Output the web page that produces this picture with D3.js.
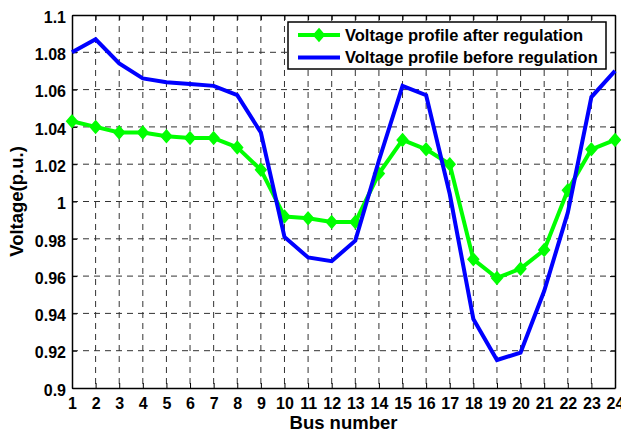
<!DOCTYPE html>
<html>
<head>
<meta charset="utf-8">
<script src="https://cdn.jsdelivr.net/npm/d3@7"></script>
<style>
  body { margin: 0; background: #fff; }
  svg text { font-family: "Liberation Sans", Arial, sans-serif; font-weight: bold; }
</style>
</head>
<body>
<div id="chart"></div>
<script>
// Bus numbers and voltage values (p.u.)
const buses = d3.range(1, 25);
const afterRegulation = [1.043, 1.040, 1.037, 1.037, 1.035, 1.034, 1.034, 1.029, 1.017, 0.992,
                         0.991, 0.989, 0.989, 1.015, 1.033, 1.028, 1.020, 0.969, 0.959, 0.964,
                         0.974, 1.006, 1.028, 1.033];
const beforeRegulation = [1.080, 1.087, 1.074, 1.066, 1.064, 1.063, 1.062, 1.057, 1.037, 0.981,
                          0.970, 0.968, 0.979, 1.022, 1.062, 1.057, 1.004, 0.937, 0.915, 0.919,
                          0.952, 0.994, 1.056, 1.070];
const yTicks = [0.9, 0.92, 0.94, 0.96, 0.98, 1, 1.02, 1.04, 1.06, 1.08, 1.1];
const seriesNames = ['Voltage profile after regulation', 'Voltage profile before regulation'];

const width = 621, height = 432;
const margin = { top: 15, right: 6, bottom: 44, left: 72 };

const svg = d3.select('#chart').append('svg')
    .attr('width', width)
    .attr('height', height);

const x = d3.scaleLinear().domain([1, 24]).range([margin.left, width - margin.right]);
const y = d3.scaleLinear().domain([0.9, 1.1]).range([height - margin.bottom, margin.top]);

// Grid
const grid = svg.append('g')
    .attr('stroke', '#333')
    .attr('stroke-width', 1)
    .attr('stroke-dasharray', '6,5');

grid.selectAll('.vg')
    .data(buses.slice(1, -1))
    .enter().append('line')
    .attr('x1', d => x(d)).attr('x2', d => x(d))
    .attr('y1', y(1.1)).attr('y2', y(0.9));

grid.selectAll('.hg')
    .data(yTicks.slice(1, -1))
    .enter().append('line')
    .attr('x1', x(1)).attr('x2', x(24))
    .attr('y1', d => y(d)).attr('y2', d => y(d));

// Axes (ticks pointing inward on all four sides)
const xAxis = svg.append('g')
    .attr('transform', `translate(0, ${y(0.9)})`)
    .call(d3.axisBottom(x).tickValues(buses).tickFormat(d3.format('d')).tickSizeInner(-5).tickSizeOuter(0));
const yAxis = svg.append('g')
    .attr('transform', `translate(${x(1)}, 0)`)
    .call(d3.axisLeft(y).tickValues(yTicks).tickFormat(d => String(+d.toFixed(2))).tickSizeInner(-5).tickSizeOuter(0));
svg.append('g')
    .attr('transform', `translate(0, ${y(1.1)})`)
    .call(d3.axisTop(x).tickValues(buses).tickFormat('').tickSizeInner(-5).tickSizeOuter(0));
svg.append('g')
    .attr('transform', `translate(${x(24)}, 0)`)
    .call(d3.axisRight(y).tickValues(yTicks).tickFormat('').tickSizeInner(-5).tickSizeOuter(0));

svg.selectAll('.domain').attr('stroke', '#000').attr('stroke-width', 1.5);
svg.selectAll('.tick line').attr('stroke', '#000');

xAxis.selectAll('text')
    .attr('font-size', 16)
    .attr('fill', '#000')
    .attr('dy', 0)
    .attr('y', 20.5);
yAxis.selectAll('text')
    .attr('font-size', 16)
    .attr('fill', '#000')
    .attr('dy', '0.45em')
    .attr('x', -6);

// Lines
const line = d3.line()
    .x((d, i) => x(buses[i]))
    .y(d => y(d));

svg.append('path')
    .datum(afterRegulation)
    .attr('fill', 'none')
    .attr('stroke', '#00ff00')
    .attr('stroke-width', 4)
    .attr('stroke-linejoin', 'round')
    .attr('d', line);

const diamond = d3.symbol().type(d3.symbolDiamond2).size(70);
svg.append('g')
    .selectAll('path')
    .data(afterRegulation)
    .enter().append('path')
    .attr('transform', (d, i) => `translate(${x(buses[i])}, ${y(d)}) scale(1, 1.15)`)
    .attr('d', diamond)
    .attr('fill', '#00ff00')
    .attr('stroke', '#00ff00')
    .attr('stroke-width', 1.5);

svg.append('path')
    .datum(beforeRegulation)
    .attr('fill', 'none')
    .attr('stroke', '#0000ff')
    .attr('stroke-width', 4)
    .attr('d', line);

// Legend
const legend = svg.append('g').attr('transform', 'translate(288, 22)');
legend.append('rect')
    .attr('width', 318).attr('height', 47)
    .attr('fill', '#fff')
    .attr('stroke', '#000')
    .attr('stroke-width', 1.5);

const rowY = [13, 35.5];
legend.append('line')
    .attr('x1', 10).attr('x2', 52).attr('y1', rowY[0]).attr('y2', rowY[0])
    .attr('stroke', '#00ff00').attr('stroke-width', 4);
legend.append('path')
    .attr('transform', `translate(31, ${rowY[0]}) scale(1, 1.15)`)
    .attr('d', diamond)
    .attr('fill', '#00ff00')
    .attr('stroke', '#00ff00')
    .attr('stroke-width', 1.5);
legend.append('line')
    .attr('x1', 10).attr('x2', 52).attr('y1', rowY[1]).attr('y2', rowY[1])
    .attr('stroke', '#0000ff').attr('stroke-width', 4);

legend.selectAll('text')
    .data(seriesNames)
    .enter().append('text')
    .attr('x', 57)
    .attr('y', (d, i) => rowY[i] + 5.8)
    .attr('font-size', 16.5)
    .text(d => d);

// Axis titles
svg.append('text')
    .attr('x', (x(1) + x(24)) / 2)
    .attr('y', 429)
    .attr('text-anchor', 'middle')
    .attr('font-size', 18.5)
    .text('Bus number');

svg.append('text')
    .attr('transform', `translate(23, ${(y(0.9) + y(1.1)) / 2}) rotate(-90)`)
    .attr('text-anchor', 'middle')
    .attr('font-size', 18.5)
    .text('Voltage(p.u.)');
</script>
</body>
</html>
